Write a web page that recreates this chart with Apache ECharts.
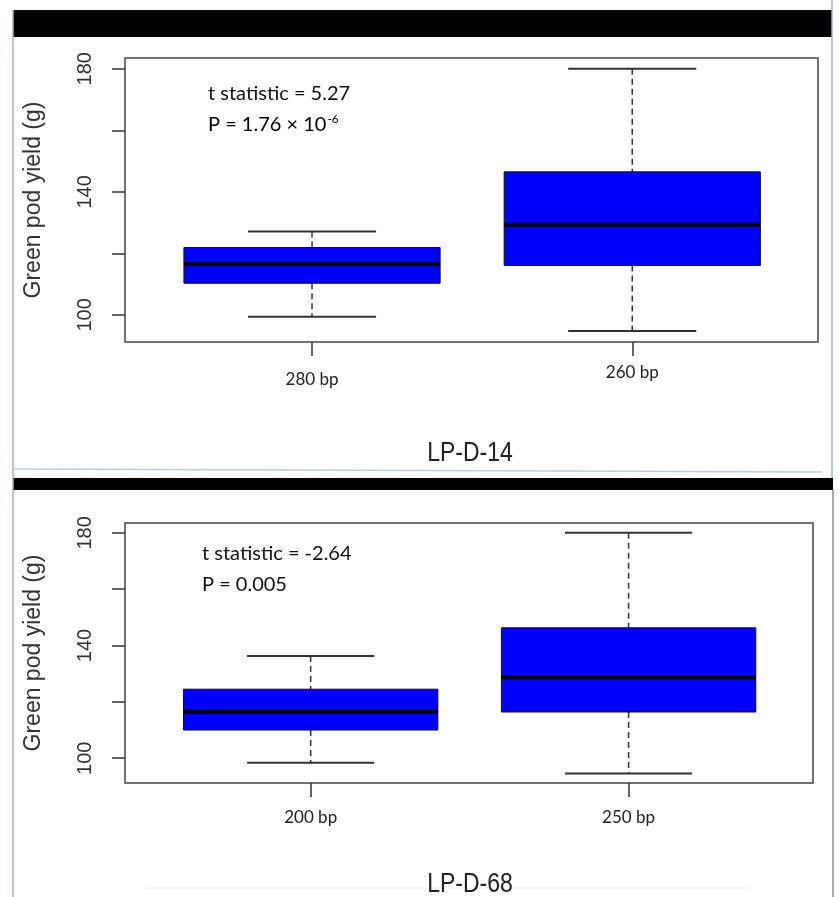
<!DOCTYPE html>
<html><head><meta charset="utf-8">
<script src="https://cdn.jsdelivr.net/npm/echarts@6/dist/echarts.min.js"></script>
<style>html,body{margin:0;padding:0;background:#fff}#c{width:840px;height:897px}</style>
</head><body><div id="c"></div>
<script>
// ---------- data ----------
const xPositions = [1, 2];

const categoriesTop = ['280 bp', '260 bp'];
const lowerWhiskerTop = [99.4, 94.8];
const q1Top = [110.3, 116.1];
const medianTop = [116.5, 129.3];
const q3Top = [121.9, 146.5];
const upperWhiskerTop = [127.1, 180];

const categoriesBottom = ['200 bp', '250 bp'];
const lowerWhiskerBottom = [98.4, 94.6];
const q1Bottom = [110.0, 116.4];
const medianBottom = [116.5, 128.7];
const q3Bottom = [124.5, 146.3];
const upperWhiskerBottom = [136.3, 180];

const yTicks = [100, 120, 140, 160, 180];
const yTickLabels = [100, 140, 180];

const panelTitles = ['LP-D-14', 'LP-D-68'];
const statLinesTop = ['t statistic = 5.27', 'P = 1.76 × 10', '-6'];
const statLinesBottom = ['t statistic = -2.64', 'P = 0.005'];
const yAxisTitle = 'Green pod yield (g)';

// ---------- helpers ----------
function rows(lo, q1, med, q3, hi) {
  return xPositions.map((x, i) => [x, lo[i], q1[i], med[i], q3[i], hi[i]]);
}
function renderBox(params, api) {
  const x = api.value(0), lo = api.value(1), q1 = api.value(2), med = api.value(3), q3 = api.value(4), hi = api.value(5);
  const hw = 0.4, cw = 0.2;
  const a = api.coord([x - hw, q3]);
  const b = api.coord([x + hw, q1]);
  const mL = api.coord([x - hw, med]), mR = api.coord([x + hw, med]);
  const pHi = api.coord([x, hi]), pLo = api.coord([x, lo]);
  const pQ3 = api.coord([x, q3]), pQ1 = api.coord([x, q1]);
  const hL = api.coord([x - cw, hi]), hR = api.coord([x + cw, hi]);
  const lL = api.coord([x - cw, lo]), lR = api.coord([x + cw, lo]);
  const dash = {stroke: '#333', lineWidth: 1.5, lineDash: [6, 4]};
  const solid = {stroke: '#333', lineWidth: 2};
  return {type: 'group', children: [
    {type: 'line', shape: {x1: pHi[0], y1: pHi[1], x2: pQ3[0], y2: pQ3[1]}, style: dash},
    {type: 'line', shape: {x1: pQ1[0], y1: pQ1[1], x2: pLo[0], y2: pLo[1]}, style: dash},
    {type: 'line', shape: {x1: hL[0], y1: hL[1], x2: hR[0], y2: hR[1]}, style: solid},
    {type: 'line', shape: {x1: lL[0], y1: lL[1], x2: lR[0], y2: lR[1]}, style: solid},
    {type: 'rect', shape: {x: a[0], y: a[1], width: b[0] - a[0], height: b[1] - a[1]}, style: {fill: '#0000ff', stroke: '#111', lineWidth: 1}},
    {type: 'line', shape: {x1: mL[0], y1: mL[1], x2: mR[0], y2: mR[1]}, style: {stroke: '#000', lineWidth: 4}}
  ]};
}
const numFont = "'Liberation Sans', Arial, sans-serif";
const calFont = "Lato, 'Liberation Sans', sans-serif";

function xAxisFor(gi, cats, margin, rich) {
  return {
    gridIndex: gi, type: 'value', min: 0.416, max: 2.58,
    splitLine: {show: false}, axisLine: {show: false, onZero: false},
    axisTick: {show: true, length: 14, customValues: xPositions, lineStyle: {color: '#333', width: 1.5}},
    axisLabel: {
      customValues: xPositions, margin: margin, fontFamily: calFont, fontSize: 17, color: '#222',
      formatter: function (v) {
        const i = xPositions.indexOf(v);
        if (i < 0) return '';
        return rich && i === 0 ? '{lo|' + cats[i] + '}' : cats[i];
      },
      rich: {lo: {padding: [7, 0, 0, 0], fontFamily: calFont, fontSize: 17, color: '#222'}}
    }
  };
}
function yAxisFor(gi) {
  return {
    gridIndex: gi, type: 'value', min: 91.2, max: 183.5,
    splitLine: {show: false}, axisLine: {show: false, onZero: false},
    axisTick: {show: true, length: 13, customValues: yTicks, lineStyle: {color: '#333', width: 1.5}},
    axisLabel: {customValues: yTickLabels, rotate: 90, margin: 30, fontFamily: numFont, fontSize: 20, color: '#333'},
    name: yAxisTitle, nameLocation: 'middle', nameGap: 80, nameRotate: 90,
    nameTextStyle: {fontFamily: numFont, fontSize: 23, color: '#333'}
  };
}

const chart = echarts.init(document.getElementById('c'), null, {renderer: 'canvas'});
chart.setOption({
  backgroundColor: '#fff',
  animation: false,
  grid: [
    {left: 125, top: 58, width: 693, height: 284, show: true, borderColor: '#444', borderWidth: 1.5, backgroundColor: 'transparent'},
    {left: 125, top: 523, width: 688, height: 260, show: true, borderColor: '#444', borderWidth: 1.5, backgroundColor: 'transparent'}
  ],
  xAxis: [xAxisFor(0, categoriesTop, 22, true), xAxisFor(1, categoriesBottom, 26, false)],
  yAxis: [yAxisFor(0), yAxisFor(1)],
  series: [
    {type: 'custom', xAxisIndex: 0, yAxisIndex: 0, renderItem: renderBox, encode: {x: 0, y: [1, 2, 3, 4, 5]},
     data: rows(lowerWhiskerTop, q1Top, medianTop, q3Top, upperWhiskerTop)},
    {type: 'custom', xAxisIndex: 1, yAxisIndex: 1, renderItem: renderBox, encode: {x: 0, y: [1, 2, 3, 4, 5]},
     data: rows(lowerWhiskerBottom, q1Bottom, medianBottom, q3Bottom, upperWhiskerBottom)}
  ],
  graphic: [
    // frame decoration
    {type: 'rect', shape: {x: 13, y: 10, width: 819, height: 27}, style: {fill: '#000'}, z: 10},
    {type: 'rect', shape: {x: 13, y: 478, width: 820, height: 12}, style: {fill: '#000'}, z: 10},
    {type: 'line', shape: {x1: 13, y1: 10, x2: 13, y2: 897}, style: {stroke: '#9fb4cc', lineWidth: 1.5}, z: 10},
    {type: 'line', shape: {x1: 832, y1: 0, x2: 832, y2: 478}, style: {stroke: '#9fb4cc', lineWidth: 1.5}, z: 10},
    {type: 'line', shape: {x1: 833, y1: 490, x2: 833, y2: 897}, style: {stroke: '#555', lineWidth: 1}, z: 10},
    {type: 'line', shape: {x1: 13, y1: 469, x2: 822, y2: 472}, style: {stroke: '#b9cde0', lineWidth: 1.5}, z: 10},
    {type: 'line', shape: {x1: 145, y1: 888, x2: 750, y2: 888}, style: {stroke: '#eeeeee', lineWidth: 1}, z: 1},
    // annotations
    {type: 'text', x: 208, y: 93.5, style: {text: statLinesTop[0], font: '20px ' + calFont, fill: '#111', verticalAlign: 'middle'}, z: 10},
    {type: 'text', x: 208, y: 124.5, style: {
      text: '{n|' + statLinesTop[1] + '}{s|' + statLinesTop[2] + '}', verticalAlign: 'middle',
      rich: {n: {fontFamily: calFont, fontSize: 20, color: '#111'}, s: {fontFamily: calFont, fontSize: 12, color: '#111', verticalAlign: 'top', padding: [0, 0, 10, 1]}}
    }, z: 10},
    {type: 'text', x: 202, y: 553.5, style: {text: statLinesBottom[0], font: '20px ' + calFont, fill: '#111', verticalAlign: 'middle'}, z: 10},
    {type: 'text', x: 202, y: 584.5, style: {text: statLinesBottom[1], font: '20px ' + calFont, fill: '#111', verticalAlign: 'middle'}, z: 10},
    // panel titles (condensed look)
    {type: 'text', x: 470, y: 453, scaleX: 0.82, style: {text: panelTitles[0], font: '28px ' + numFont, fill: '#222', align: 'center', verticalAlign: 'middle'}, z: 10},
    {type: 'text', x: 470, y: 884, scaleX: 0.82, style: {text: panelTitles[1], font: '28px ' + numFont, fill: '#222', align: 'center', verticalAlign: 'middle'}, z: 10}
  ]
});
</script></body></html>
